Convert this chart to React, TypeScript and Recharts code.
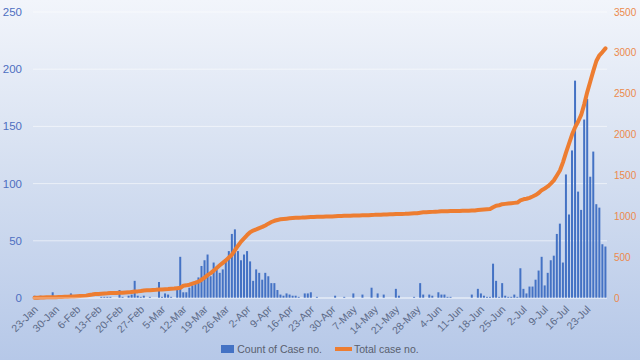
import {
  Bar,
  CartesianGrid,
  ComposedChart,
  Legend,
  Line,
  XAxis,
  YAxis
} from "recharts";

const START_DATE = Date.UTC(2020, 0, 23);
const MONTHS = ["Jan", "Feb", "Mar", "Apr", "May", "Jun", "Jul", "Aug", "Sep", "Oct", "Nov", "Dec"];

// daily counts, 23-Jan .. 29-Jul
const dailyCases = [
  2, 1, 2, 0, 0, 0, 5, 1, 0, 0, 0, 1, 4, 0, 1, 0, 0, 0, 0, 0,
  0, 0, 1, 1, 1, 1, 0, 0, 7, 1, 0, 2, 3, 15, 2, 1, 2, 0, 1, 0,
  0, 14, 1, 4, 3, 1, 0, 7, 36, 5, 5, 9, 11, 13, 18, 28, 33, 38, 19, 31,
  25, 22, 25, 32, 41, 56, 60, 41, 33, 38, 41, 32, 15, 25, 22, 16, 22, 19, 13, 13,
  7, 3, 2, 4, 3, 2, 2, 1, 0, 4, 4, 5, 0, 1, 0, 0, 0, 0, 0, 2,
  0, 0, 1, 0, 0, 4, 0, 0, 3, 0, 0, 9, 0, 4, 0, 3, 0, 0, 0, 8,
  2, 0, 0, 0, 0, 1, 0, 13, 3, 0, 3, 2, 0, 5, 3, 3, 1, 1, 0, 0,
  0, 0, 0, 0, 3, 0, 8, 4, 2, 1, 1, 30, 15, 1, 13, 2, 1, 1, 3, 1,
  26, 8, 4, 10, 10, 16, 24, 36, 11, 22, 33, 37, 56, 65, 31, 108, 73, 129, 190, 93,
  77, 156, 174, 106, 128, 82, 79, 47, 45
];

// running total
const totalCases = [
  2, 2, 5, 5, 8, 8, 10, 10, 12, 13, 14, 15, 17, 18, 21, 24, 26, 29, 36, 42,
  49, 50, 53, 56, 57, 60, 62, 62, 64, 65, 68, 69, 74, 79, 81, 85, 91, 94, 95, 98,
  100, 104, 105, 107, 109, 114, 115, 120, 125, 150, 155, 163, 175, 187, 200, 224, 250, 280, 305, 335,
  368, 400, 430, 460, 495, 530, 585, 640, 690, 730, 770, 805, 825, 840, 856, 870, 888, 910, 930, 945,
  955, 963, 967, 971, 975, 978, 981, 983, 984, 986, 988, 990, 992, 993, 994, 995, 996, 997, 998, 1000,
  1002, 1004, 1006, 1007, 1008, 1010, 1010, 1011, 1012, 1013, 1014, 1017, 1018, 1020, 1020, 1022, 1023, 1024, 1024, 1027,
  1028, 1029, 1030, 1032, 1034, 1036, 1038, 1044, 1048, 1050, 1052, 1054, 1056, 1058, 1061, 1062, 1063, 1064, 1065, 1066,
  1066, 1067, 1067, 1068, 1070, 1072, 1076, 1079, 1082, 1085, 1088, 1110, 1130, 1135, 1148, 1152, 1156, 1160, 1164, 1168,
  1195, 1208, 1215, 1226, 1242, 1260, 1285, 1320, 1340, 1365, 1400, 1440, 1500, 1560, 1660, 1780, 1890, 2000, 2090, 2160,
  2240, 2370, 2520, 2650, 2780, 2900, 2970, 3010, 3055
];

const leftTicks = [0, 50, 100, 150, 200, 250];
const rightTicks = [0, 500, 1000, 1500, 2000, 2500, 3000, 3500];

const data = dailyCases.map((count, i) => {
  const d = new Date(START_DATE + i * 86400000);
  return {
    day: `${d.getUTCDate()}-${MONTHS[d.getUTCMonth()]}`,
    count,
    total: totalCases[i]
  };
});

const FONT = '"Liberation Sans", Arial, sans-serif';

function DateTick({ x, y, payload }: { x: number; y: number; payload: { value: string } }) {
  const ax = x + 4;
  const ay = y + 12;
  return (
    <text
      x={ax}
      y={ay}
      transform={`rotate(-45, ${ax}, ${ay})`}
      textAnchor="end"
      fontSize={10.5}
      fill="#5d6b88"
      fontFamily={FONT}
    >
      {payload.value}
    </text>
  );
}

function ChartLegend() {
  return (
    <div
      style={{
        display: "flex",
        justifyContent: "center",
        alignItems: "center",
        fontSize: 10.5,
        color: "#595f6e",
        fontFamily: FONT,
        height: 22
      }}
    >
      <span style={{ display: "inline-block", width: 13, height: 8, background: "#4472c4", marginRight: 3 }} />
      <span style={{ marginRight: 13 }}>Count of Case no.</span>
      <span style={{ display: "inline-block", width: 17, height: 4, background: "#ed7d31", marginRight: 2 }} />
      <span>Total case no.</span>
    </div>
  );
}

export default function App() {
  return (
    <div
      style={{
        position: "absolute",
        left: 0,
        top: 0,
        width: 640,
        height: 360,
        background: "linear-gradient(180deg, #f2f5fb 0%, #d6e0f1 45%, #b6c8e8 100%)",
        fontFamily: FONT
      }}
    >
      <ComposedChart
        width={640}
        height={360}
        data={data}
        margin={{ top: 12, right: 0, bottom: 0, left: 0 }}
        barCategoryGap="15%"
      >
        <CartesianGrid yAxisId="left" vertical={false} stroke="#ffffff" strokeOpacity={0.55} />
        <XAxis
          dataKey="day"
          interval={6}
          tickLine={false}
          axisLine={{ stroke: "#ffffff", strokeOpacity: 0.5 }}
          tickSize={0}
          tickMargin={0}
          height={40}
          tick={DateTick}
        />
        <YAxis
          yAxisId="left"
          domain={[0, 250]}
          ticks={leftTicks}
          width={33}
          tickLine={false}
          axisLine={false}
          tickSize={0}
          tickMargin={11}
          tick={{ fontSize: 11.5, fill: "#4e6fc1", fontFamily: FONT }}
        />
        <YAxis
          yAxisId="right"
          orientation="right"
          domain={[0, 3500]}
          ticks={rightTicks}
          width={33}
          tickLine={false}
          axisLine={false}
          tickSize={0}
          tickMargin={7}
          tick={{ fontSize: 10, fill: "#ec8a4c", fontFamily: FONT }}
        />
        <Bar yAxisId="left" dataKey="count" name="Count of Case no." fill="#4472c4" isAnimationActive={false} />
        <Line
          yAxisId="right"
          dataKey="total"
          name="Total case no."
          type="linear"
          stroke="#ed7d31"
          strokeWidth={4}
          strokeLinecap="round"
          strokeLinejoin="round"
          dot={false}
          isAnimationActive={false}
        />
        <Legend verticalAlign="bottom" height={22} content={<ChartLegend />} />
      </ComposedChart>
    </div>
  );
}
